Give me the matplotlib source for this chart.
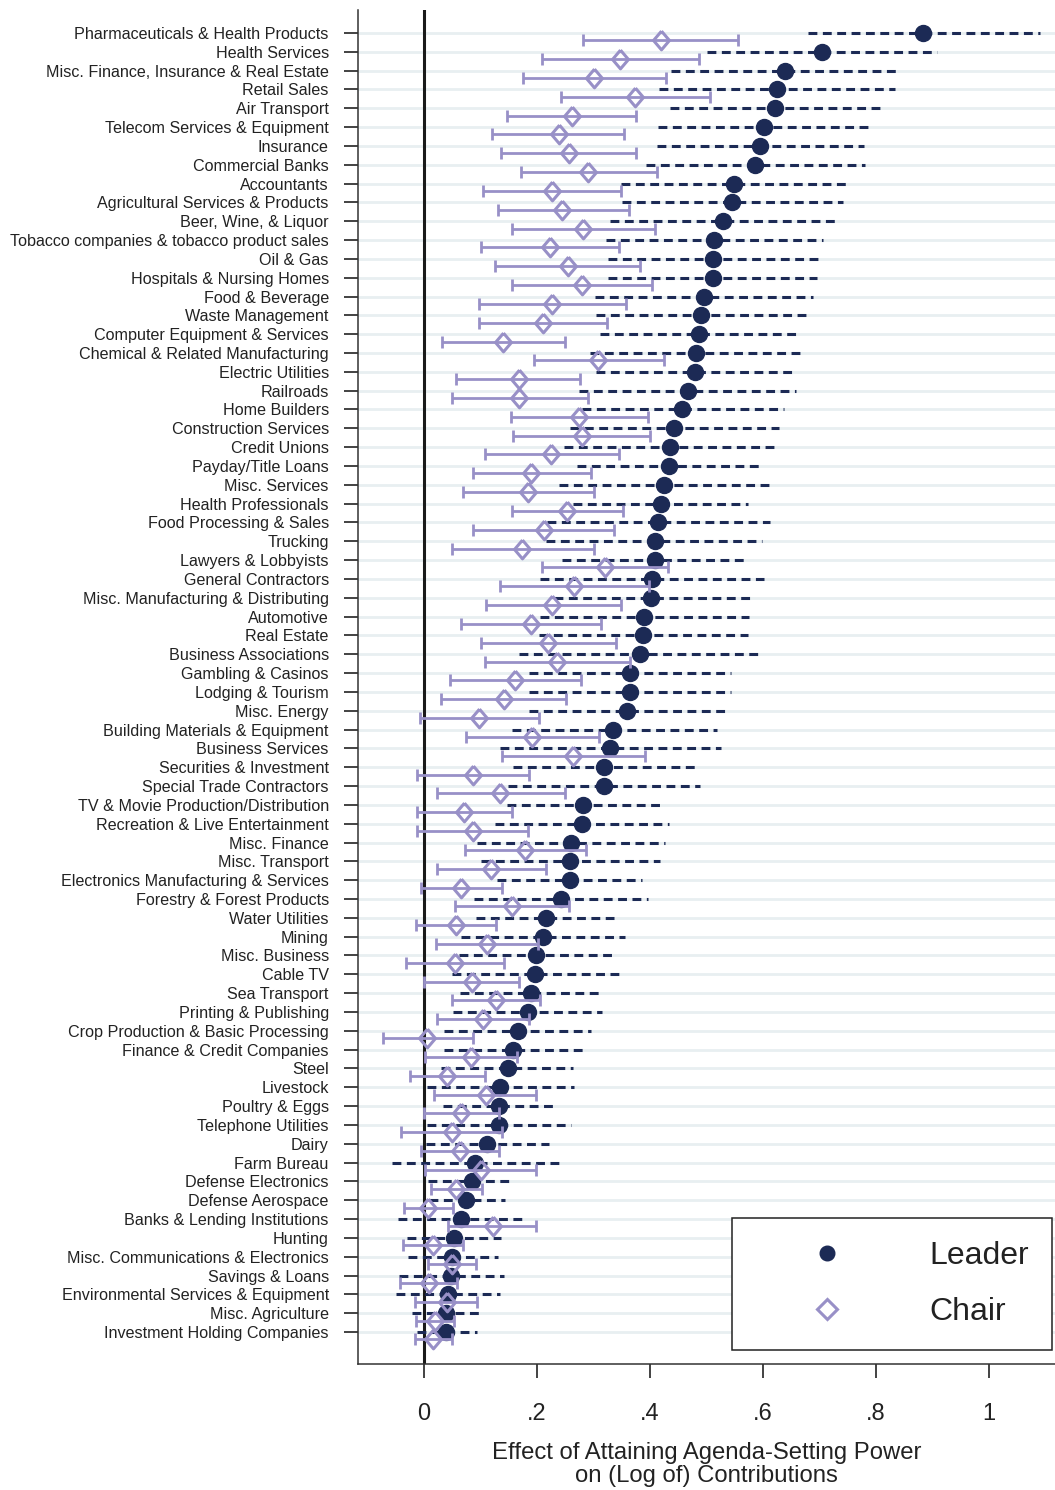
import numpy as np
import matplotlib
matplotlib.use('Agg')
from matplotlib import pyplot as plt
from matplotlib.lines import Line2D

plt.rcParams['font.family'] = ['Liberation Sans', 'DejaVu Sans']

industrias = [
  'Pharmaceuticals & Health Products', 'Health Services',
  'Misc. Finance, Insurance & Real Estate', 'Retail Sales', 'Air Transport',
  'Telecom Services & Equipment', 'Insurance', 'Commercial Banks', 'Accountants',
  'Agricultural Services & Products', 'Beer, Wine, & Liquor',
  'Tobacco companies & tobacco product sales', 'Oil & Gas',
  'Hospitals & Nursing Homes', 'Food & Beverage', 'Waste Management',
  'Computer Equipment & Services', 'Chemical & Related Manufacturing',
  'Electric Utilities', 'Railroads', 'Home Builders', 'Construction Services',
  'Credit Unions', 'Payday/Title Loans', 'Misc. Services', 'Health Professionals',
  'Food Processing & Sales', 'Trucking', 'Lawyers & Lobbyists',
  'General Contractors', 'Misc. Manufacturing & Distributing', 'Automotive',
  'Real Estate', 'Business Associations', 'Gambling & Casinos',
  'Lodging & Tourism', 'Misc. Energy', 'Building Materials & Equipment',
  'Business Services', 'Securities & Investment', 'Special Trade Contractors',
  'TV & Movie Production/Distribution', 'Recreation & Live Entertainment',
  'Misc. Finance', 'Misc. Transport', 'Electronics Manufacturing & Services',
  'Forestry & Forest Products', 'Water Utilities', 'Mining', 'Misc. Business',
  'Cable TV', 'Sea Transport', 'Printing & Publishing',
  'Crop Production & Basic Processing', 'Finance & Credit Companies', 'Steel',
  'Livestock', 'Poultry & Eggs', 'Telephone Utilities', 'Dairy', 'Farm Bureau',
  'Defense Electronics', 'Defense Aerospace', 'Banks & Lending Institutions',
  'Hunting', 'Misc. Communications & Electronics', 'Savings & Loans',
  'Environmental Services & Equipment', 'Misc. Agriculture',
  'Investment Holding Companies']

# Leader: estimacion e intervalo
leader = [0.884, 0.704, 0.639, 0.624, 0.622, 0.601, 0.595, 0.586, 0.549, 0.545,
          0.529, 0.513, 0.512, 0.511, 0.496, 0.490, 0.486, 0.481, 0.480, 0.467,
          0.456, 0.443, 0.436, 0.434, 0.425, 0.419, 0.415, 0.408, 0.408, 0.404,
          0.402, 0.390, 0.388, 0.382, 0.365, 0.365, 0.360, 0.335, 0.329, 0.319,
          0.319, 0.282, 0.279, 0.260, 0.259, 0.258, 0.242, 0.216, 0.211, 0.198,
          0.197, 0.190, 0.184, 0.166, 0.158, 0.148, 0.135, 0.133, 0.133, 0.112,
          0.090, 0.085, 0.074, 0.065, 0.053, 0.050, 0.047, 0.042, 0.039, 0.039]
leader_lo = [0.680, 0.500, 0.437, 0.416, 0.435, 0.414, 0.412, 0.393, 0.349, 0.350,
             0.330, 0.322, 0.326, 0.325, 0.303, 0.305, 0.312, 0.294, 0.305, 0.275,
             0.279, 0.258, 0.248, 0.271, 0.239, 0.264, 0.218, 0.216, 0.245, 0.205,
             0.230, 0.205, 0.203, 0.168, 0.186, 0.186, 0.185, 0.155, 0.134, 0.158,
             0.148, 0.147, 0.125, 0.094, 0.100, 0.129, 0.088, 0.092, 0.065, 0.062,
             0.050, 0.063, 0.052, 0.035, 0.036, 0.030, 0.006, 0.033, 0.006, 0.003,
             -0.057, 0.007, 0.009, -0.047, -0.030, -0.029, -0.044, -0.049, -0.021, -0.013]
leader_hi = [1.091, 0.908, 0.842, 0.834, 0.810, 0.790, 0.779, 0.780, 0.749, 0.741,
             0.727, 0.707, 0.699, 0.696, 0.689, 0.676, 0.661, 0.666, 0.655, 0.659,
             0.637, 0.628, 0.622, 0.597, 0.610, 0.574, 0.613, 0.599, 0.570, 0.602,
             0.578, 0.576, 0.573, 0.596, 0.544, 0.544, 0.536, 0.518, 0.526, 0.481,
             0.489, 0.419, 0.434, 0.426, 0.417, 0.385, 0.396, 0.336, 0.356, 0.334,
             0.345, 0.314, 0.315, 0.296, 0.281, 0.264, 0.266, 0.233, 0.260, 0.222,
             0.239, 0.160, 0.144, 0.178, 0.137, 0.131, 0.142, 0.135, 0.102, 0.094]

# Chair: estimacion e intervalo
chair = [0.419, 0.347, 0.301, 0.374, 0.262, 0.238, 0.256, 0.291, 0.226, 0.245,
         0.281, 0.223, 0.254, 0.279, 0.227, 0.211, 0.140, 0.308, 0.168, 0.168,
         0.275, 0.279, 0.225, 0.190, 0.184, 0.253, 0.212, 0.174, 0.320, 0.266,
         0.227, 0.189, 0.220, 0.235, 0.161, 0.141, 0.098, 0.191, 0.264, 0.087,
         0.135, 0.071, 0.086, 0.179, 0.118, 0.065, 0.155, 0.056, 0.112, 0.054,
         0.084, 0.128, 0.104, 0.006, 0.083, 0.041, 0.109, 0.066, 0.049, 0.064,
         0.101, 0.057, 0.007, 0.122, 0.015, 0.049, 0.009, 0.040, 0.020, 0.016]
chair_lo = [0.282, 0.208, 0.175, 0.242, 0.147, 0.120, 0.137, 0.171, 0.105, 0.130,
            0.155, 0.101, 0.125, 0.155, 0.098, 0.098, 0.031, 0.194, 0.057, 0.049,
            0.154, 0.158, 0.108, 0.087, 0.069, 0.155, 0.087, 0.049, 0.208, 0.134,
            0.109, 0.065, 0.101, 0.107, 0.045, 0.030, -0.007, 0.074, 0.138, -0.013,
            0.022, -0.012, -0.012, 0.073, 0.022, -0.006, 0.055, -0.015, 0.021, -0.032,
            -0.001, 0.050, 0.022, -0.072, 0.002, -0.025, 0.017, 0.000, -0.040, -0.006,
            0.002, 0.013, -0.035, 0.043, -0.038, 0.007, -0.042, -0.016, -0.014, -0.016]
chair_hi = [0.555, 0.486, 0.429, 0.506, 0.376, 0.354, 0.375, 0.413, 0.349, 0.363,
            0.408, 0.345, 0.382, 0.404, 0.358, 0.323, 0.249, 0.424, 0.276, 0.290,
            0.397, 0.400, 0.345, 0.295, 0.300, 0.352, 0.337, 0.300, 0.431, 0.398,
            0.348, 0.313, 0.339, 0.365, 0.277, 0.251, 0.204, 0.309, 0.392, 0.186,
            0.249, 0.155, 0.184, 0.286, 0.215, 0.138, 0.256, 0.128, 0.202, 0.141,
            0.168, 0.205, 0.186, 0.087, 0.164, 0.108, 0.198, 0.132, 0.138, 0.133,
            0.198, 0.103, 0.051, 0.199, 0.069, 0.092, 0.058, 0.094, 0.053, 0.049]

xticks = [0, 0.2, 0.4, 0.6, 0.8, 1]
xticklabels = ['0', '.2', '.4', '.6', '.8', '1']

azul = '#1c2a55'
lila = '#9890c7'
texto = '#222222'

y = np.arange(1, len(industrias) + 1)
y_chair = y + 0.39

fig = plt.figure(figsize=(10.55, 14.9), dpi=100)
ax = fig.add_axes([358/1055, 1 - 1364/1490, 697/1055, 1354/1490])

ax.set_xlim(-0.117, 1.117)
ax.set_ylim(71.7, -0.22)

# lineas de fondo y el cero
ax.set_yticks(y)
ax.set_yticklabels(industrias, fontsize=11.6, color=texto)
ax.grid(axis='y', color='#e8eff1', linewidth=2.0, zorder=0)
ax.set_axisbelow(True)
ax.axvline(0, color='#1a1a1a', linewidth=2.2, zorder=1.5)

# leader: intervalo punteado y punto
ax.hlines(y, leader_lo, leader_hi, colors=azul, linewidth=2.2,
          linestyles=[(0, (2.9, 1.8))], zorder=2)
ax.plot(leader, y, 'o', color=azul, markersize=11.5, zorder=3, linestyle='none')

# chair: barras con tapas y rombo hueco
chair_a = np.array(chair)
ax.errorbar(chair_a, y_chair,
            xerr=[chair_a - np.array(chair_lo), np.array(chair_hi) - chair_a],
            fmt='none', ecolor=lila, elinewidth=2.0, capsize=4.5, capthick=2.0,
            zorder=4)
rombo = [(0, 1), (0.85, 0), (0, -1), (-0.85, 0), (0, 1)]
ax.plot(chair_a, y_chair, linestyle='none', marker=rombo, markersize=13.5,
        markerfacecolor='none', markeredgecolor=lila, markeredgewidth=2.2,
        zorder=5)

ax.set_xticks(xticks)
ax.set_xticklabels(xticklabels, fontsize=17, color=texto)
ax.tick_params(axis='x', length=10, width=1.2, pad=18, color=texto)
ax.tick_params(axis='y', length=10, width=1.2, pad=11, color=texto)
ax.set_xlabel('Effect of Attaining Agenda-Setting Power\non (Log of) Contributions',
              fontsize=17.2, color=texto, labelpad=12, linespacing=1.1)

for lado in ['top', 'right']:
  ax.spines[lado].set_visible(False)
for lado in ['left', 'bottom']:
  ax.spines[lado].set_linewidth(1.1)
  ax.spines[lado].set_color('#333333')

manejadores = [
  Line2D([], [], linestyle='none', marker='o', color=azul, markersize=10.5),
  Line2D([], [], linestyle='none', marker='D', markersize=10,
         markerfacecolor='white', markeredgecolor=lila, markeredgewidth=2.2),
]
leyenda = ax.legend(manejadores, ['Leader', 'Chair'], loc='lower right',
                    bbox_to_anchor=(0.9957, 0.0103), borderaxespad=0,
                    fontsize=23, frameon=True, fancybox=False, framealpha=1,
                    edgecolor='#222222', borderpad=0.72, handlelength=4.5,
                    handletextpad=0.95, labelspacing=0.8)
leyenda.get_frame().set_linewidth(1.1)
for t in leyenda.get_texts():
  t.set_color(texto)

fig.savefig('out.png', dpi=100)
